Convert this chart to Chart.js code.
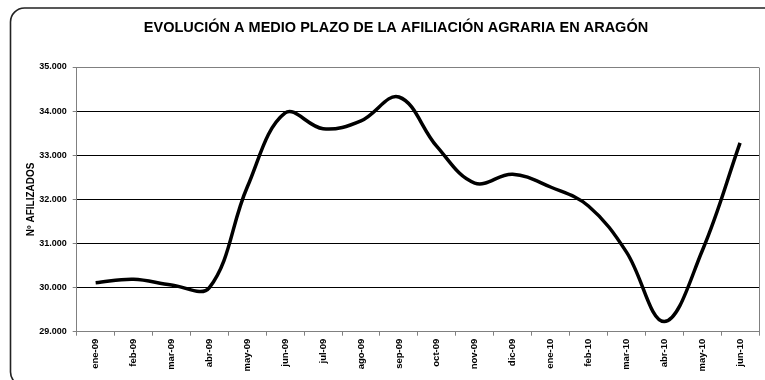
<!DOCTYPE html>
<html>
<head>
<meta charset="utf-8">
<script src="https://cdn.jsdelivr.net/npm/chart.js@4/dist/chart.umd.min.js"></script>
<style>
  html, body { margin: 0; padding: 0; background: #ffffff; }
  #wrap { width: 765px; height: 380px; }
</style>
</head>
<body>
<div id="wrap"><canvas id="c" width="765" height="380"></canvas></div>
<script>
// Afiliación agraria en Aragón, enero 2009 – junio 2010
const months = ['ene-09','feb-09','mar-09','abr-09','may-09','jun-09','jul-09','ago-09','sep-09',
                'oct-09','nov-09','dic-09','ene-10','feb-10','mar-10','abr-10','may-10','jun-10'];
const afiliados = [30110, 30190, 30060, 30000, 32280, 33960, 33600, 33780, 34320,
                   33200, 32370, 32570, 32280, 31850, 30810, 29230, 30830, 33280];
const yMin = 29000;
const yMax = 35000;
const yStep = 1000;
const chartTitle = 'EVOLUCIÓN A MEDIO PLAZO DE LA AFILIACIÓN AGRARIA EN ARAGÓN';
const yAxisTitle = 'Nº AFILIZADOS';

const FONT = "'Liberation Sans', Arial, sans-serif";

function miles(v) {
  return String(v).replace(/\B(?=(\d{3})+(?!\d))/g, '.');
}

// Frame, title and plot border
const framePlugin = {
  id: 'frame',
  beforeDraw(chart) {
    const ctx = chart.ctx;
    ctx.save();
    ctx.fillStyle = '#ffffff';
    ctx.fillRect(0, 0, chart.width, chart.height);
    ctx.strokeStyle = '#222222';
    ctx.lineWidth = 1.6;
    ctx.beginPath();
    ctx.roundRect(10.5, 8, 800, 378, 14);
    ctx.stroke();
    ctx.fillStyle = '#000000';
    ctx.font = 'bold 14.5px ' + FONT;
    ctx.textAlign = 'center';
    ctx.textBaseline = 'middle';
    ctx.fillText(chartTitle, 396, 28);
    ctx.restore();
  },
  afterDraw(chart) {
    const a = chart.chartArea;
    const ctx = chart.ctx;
    ctx.save();
    ctx.strokeStyle = '#808080';
    ctx.lineWidth = 1;
    ctx.beginPath();
    ctx.moveTo(Math.round(a.right) + 0.5, Math.round(a.top) + 0.5);
    ctx.lineTo(Math.round(a.right) + 0.5, Math.round(a.bottom) + 0.5);
    ctx.stroke();
    ctx.restore();
  }
};

new Chart(document.getElementById('c'), {
  type: 'line',
  data: {
    labels: months,
    datasets: [{
      data: afiliados,
      borderColor: '#000000',
      borderWidth: 3.5,
      pointRadius: 0,
      tension: 0.38,
      fill: false
    }]
  },
  options: {
    responsive: false,
    animation: false,
    devicePixelRatio: 1,
    layout: { padding: { top: 67, left: 14, right: 6, bottom: 0 } },
    plugins: { legend: { display: false }, tooltip: { enabled: false }, title: { display: false } },
    scales: {
      x: {
        offset: true,
        grid: {
          offset: true,
          drawOnChartArea: false,
          drawTicks: true,
          tickLength: 4,
          tickColor: '#808080'
        },
        border: { color: '#808080', width: 1 },
        ticks: {
          autoSkip: false,
          minRotation: 90,
          maxRotation: 90,
          padding: 3,
          color: '#000000',
          font: { family: FONT, size: 9.5, weight: 'bold' }
        },
        afterFit(scale) { scale.height = 48.3; }
      },
      y: {
        min: yMin,
        max: yMax,
        ticks: {
          stepSize: yStep,
          padding: 6,
          color: '#000000',
          font: { family: FONT, size: 9, weight: 'bold' },
          callback: (v) => miles(v)
        },
        grid: {
          color: (c) => (c.tick && (c.tick.value === yMax || c.tick.value === yMin)) ? '#808080' : '#000000',
          lineWidth: 1,
          tickLength: 4,
          tickColor: '#808080'
        },
        border: { color: '#808080', width: 1 },
        title: {
          display: true,
          text: yAxisTitle,
          color: '#000000',
          font: { family: FONT, size: 10, weight: 'bold' },
          padding: { top: 11, bottom: 0 }
        },
        afterFit(scale) { scale.width = 62.7; }
      }
    }
  },
  plugins: [framePlugin]
});
</script>
</body>
</html>
